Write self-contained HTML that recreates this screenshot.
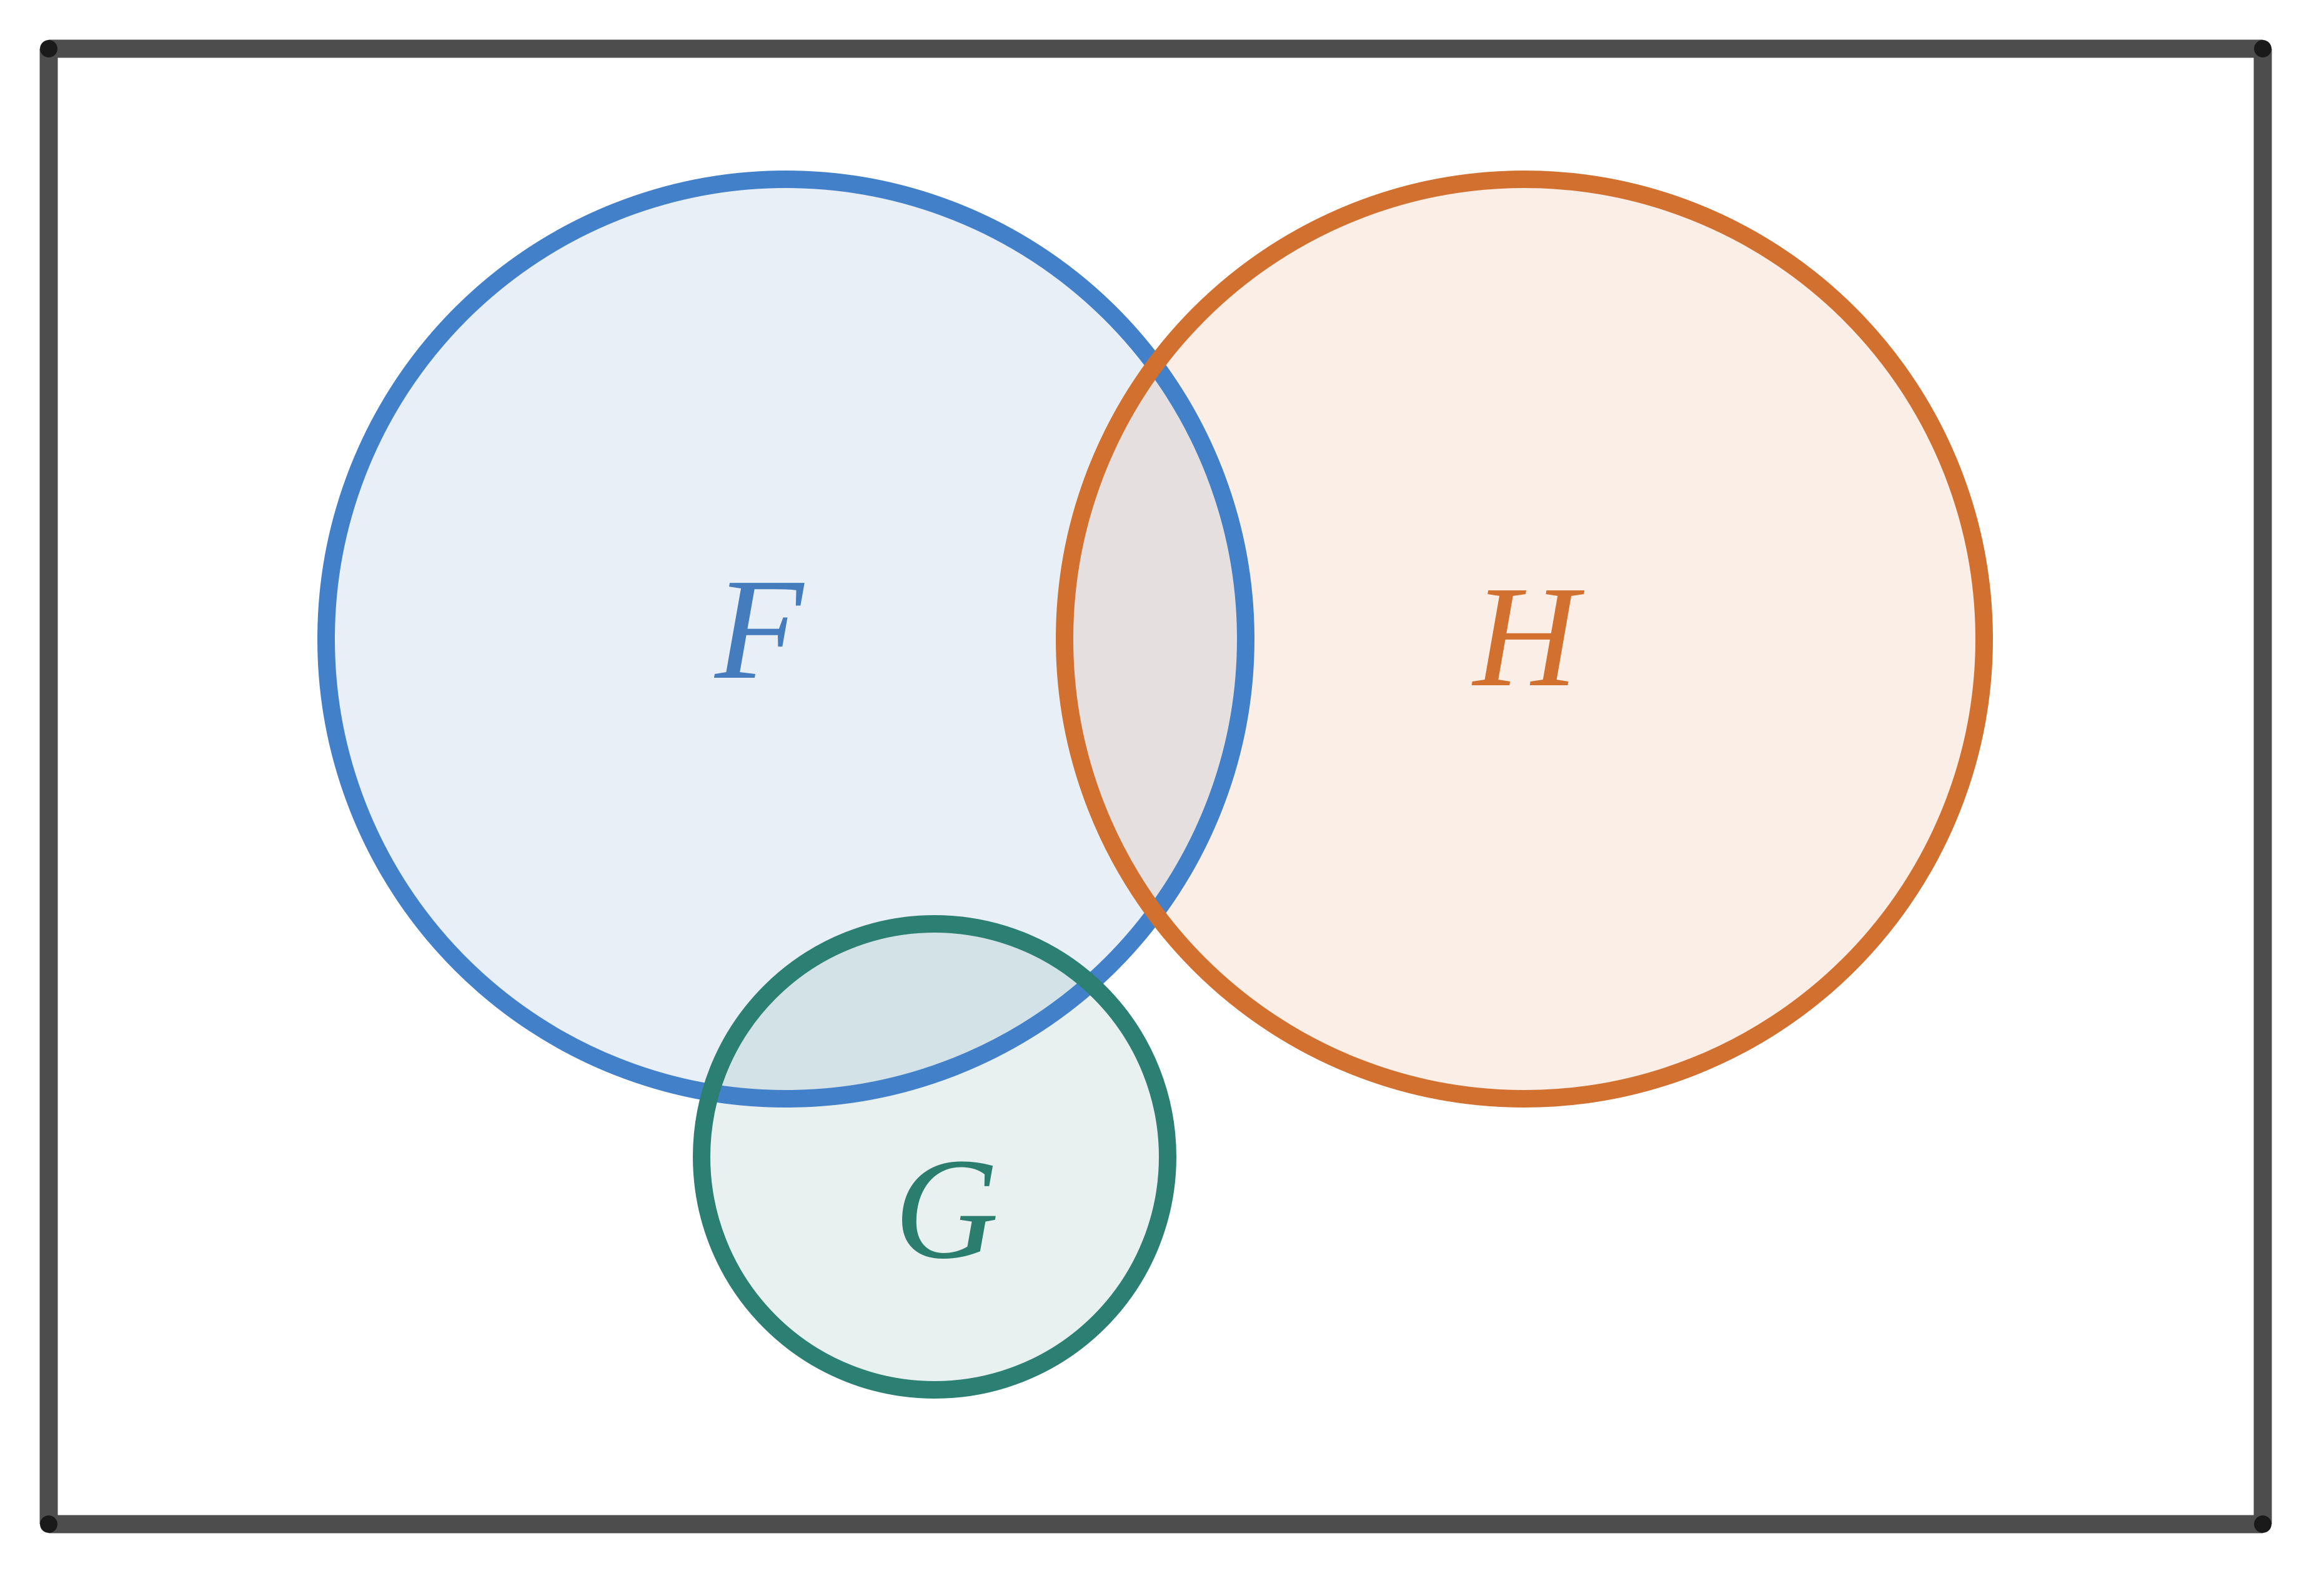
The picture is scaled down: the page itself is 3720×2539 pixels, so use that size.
<!DOCTYPE html>
<html><head><meta charset="utf-8">
<style>
html,body{margin:0;padding:0;background:#fff;}
svg{display:block;}
</style></head>
<body>
<svg width="3720" height="2539" viewBox="0 0 3720 2539" xmlns="http://www.w3.org/2000/svg">
<rect width="3720" height="2539" fill="#fff"/>
<circle cx="1258" cy="1023" r="736" fill="#447cbd" fill-opacity="0.12"/>
<circle cx="2440" cy="1023" r="736" fill="#d4712f" fill-opacity="0.12"/>
<circle cx="1496" cy="1852" r="373" fill="#2b7d6d" fill-opacity="0.11"/>
<circle cx="1258" cy="1023" r="736" fill="none" stroke="#4281c9" stroke-width="28"/>
<circle cx="2440" cy="1023" r="736" fill="none" stroke="#d2702f" stroke-width="28"/>
<circle cx="1496" cy="1852" r="373" fill="none" stroke="#2b7f73" stroke-width="28"/>
<g stroke="#4d4d4d" stroke-width="29" stroke-linecap="butt" fill="none">
<line x1="78" y1="78" x2="3622" y2="78"/>
<line x1="78" y1="2440" x2="3622" y2="2440"/>
<line x1="78" y1="78" x2="78" y2="2440"/>
<line x1="3622" y1="78" x2="3622" y2="2440"/>
</g>
<g fill="#1a1a1a">
<circle cx="78" cy="78" r="14"/><circle cx="3622" cy="78" r="14"/>
<circle cx="78" cy="2440" r="14"/><circle cx="3622" cy="2440" r="14"/>
</g>
<g font-family="'Liberation Serif', serif" font-style="italic" font-size="232" text-anchor="middle">
<text x="1215" y="1085" fill="#447cbd">F</text>
<text x="2442" y="1097" fill="#d2702f">H</text>
<text x="1515" y="2013" fill="#2b7d6d">G</text>
</g>
</svg>
</body></html>
